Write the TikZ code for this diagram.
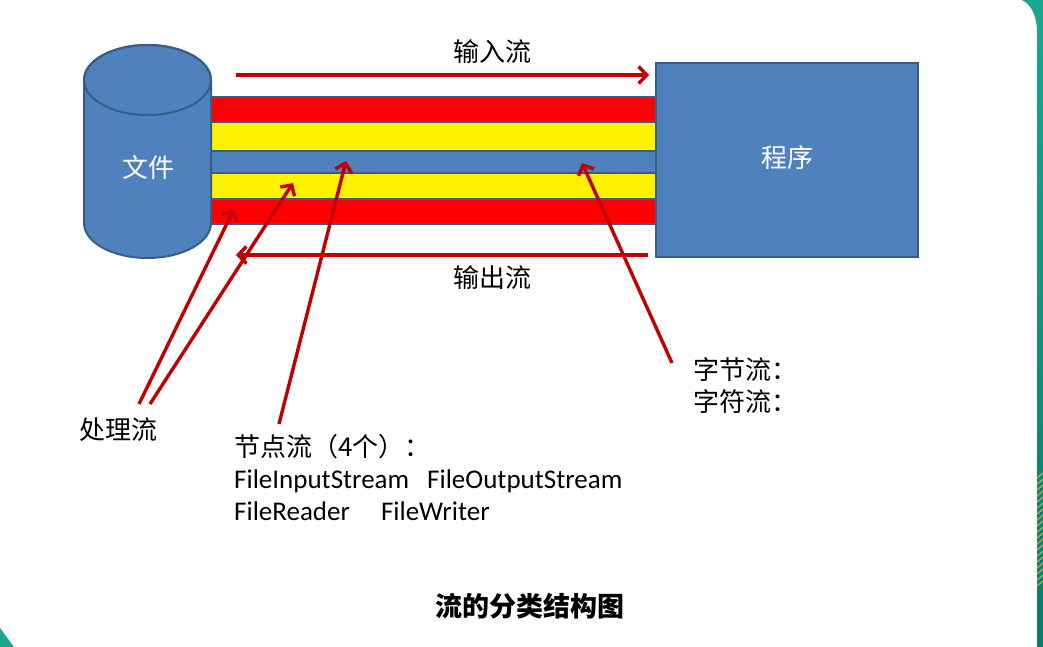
\documentclass[tikz,border=0pt]{standalone}
\usepackage{fontspec}
\setmainfont{Carlito}
\newfontfamily\cjk{Noto Sans CJK SC}
\usetikzlibrary{arrows.meta}
\definecolor{boxblue}{HTML}{4F81BD}
\definecolor{boxedge}{HTML}{385D8A}
\definecolor{arrred}{HTML}{C00000}
\definecolor{tealA}{HTML}{1BA78E}
\definecolor{tealB}{HTML}{0B7A68}
\definecolor{hatch}{HTML}{E8A23A}
\begin{document}
\begin{tikzpicture}[x=1pt,y=-1pt,
  stripe/.style={draw=boxedge, line width=2pt},
  ptr/.style={draw=arrred, line width=3.4pt, -{Straight Barb[length=8pt,width=17pt,line width=3.4pt]}},
  lab/.style={font=\fontsize{26}{30}\selectfont\cjk, inner sep=0pt},
  latin/.style={font=\fontsize{27}{30}\selectfont, inner sep=0pt},
  inner/.style={font=\fontsize{26}{30}\selectfont\cjk, text=white, inner sep=0pt}]
\useasboundingbox (0,0) rectangle (1043,647);
% background decoration
\shade[top color=tealA, bottom color=tealB]
  (1022,0) .. controls (1032,5) and (1037,17) .. (1037,32) -- (1037,647) -- (1043,647) -- (1043,0) -- cycle;
\foreach \i in {478,484,...,586} {\draw[hatch, line width=1pt] (1037,\i) -- (1043,\i-5);}
\fill[tealA] (0,628) -- (14,647) -- (0,647) -- cycle;
% stripes
\filldraw[stripe, fill=red]    (211,97)  rectangle (656,122);
\filldraw[stripe, fill=yellow] (211,122) rectangle (656,151);
\filldraw[stripe, fill=boxblue](211,151) rectangle (656,173);
\filldraw[stripe, fill=yellow] (211,173) rectangle (656,198.5);
\filldraw[stripe, fill=red]    (211,198.5) rectangle (656,223.5);
% cylinder
\filldraw[fill=boxblue, draw=boxedge, line width=2pt]
  (84,80) -- (84,223) arc[start angle=180, end angle=0, x radius=63.5, y radius=35]
  -- (211,80) arc[start angle=0, end angle=-180, x radius=63.5, y radius=35] -- cycle;
\draw[draw=boxedge, line width=2pt] (147.5,80) ellipse [x radius=63.5, y radius=35];
\node[inner] (file) at (148,168) {文件};
% program box
\node[draw=boxedge, fill=boxblue, line width=2pt, minimum width=262pt, minimum height=194pt, inner sep=0pt] (progbox) at (787,160) {};
\node[inner] (prog) at (787,158) {程序};
% input / output arrows
\coordinate (inS) at (236,75);
\coordinate (inE) at (649,75);
\coordinate (outS) at (648,255);
\coordinate (outE) at (236,255);
\draw[ptr] (inS) -- (inE);
\draw[ptr] (outS) -- (outE);
\node[lab] (inlab) at (492,52) {输入流};
\node[lab] (outlab) at (492,278) {输出流};
% labels
\node[lab] (proc) at (118,430) {处理流};
\node[lab, anchor=west] (nodestream) at (234,447) {节点流（4个）：};
\node[latin, anchor=base west] (line1) at (234,488) {FileInputStream\hspace{18pt}FileOutputStream};
\node[latin, anchor=base west] (line2) at (234,520) {FileReader\hspace{31pt}FileWriter};
\node[lab, anchor=west] (byte) at (693,370) {字节流：};
\node[lab, anchor=west] (char) at (693,402) {字符流：};
\node[lab, font=\fontsize{27}{30}\selectfont\cjk\bfseries] (title) at (530,606) {流的分类结构图};
% pointer arrows
\coordinate (p1s) at (139,404); \coordinate (p1e) at (234,209);
\coordinate (p2s) at (150,404); \coordinate (p2e) at (293,183);
\coordinate (p3s) at (279,424); \coordinate (p3e) at (346,161);
\coordinate (p4s) at (672,363); \coordinate (p4e) at (582,163);
\draw[ptr] (p1s) -- (p1e);
\draw[ptr] (p2s) -- (p2e);
\draw[ptr] (p3s) -- (p3e);
\draw[ptr] (p4s) -- (p4e);
\end{tikzpicture}
\end{document}
